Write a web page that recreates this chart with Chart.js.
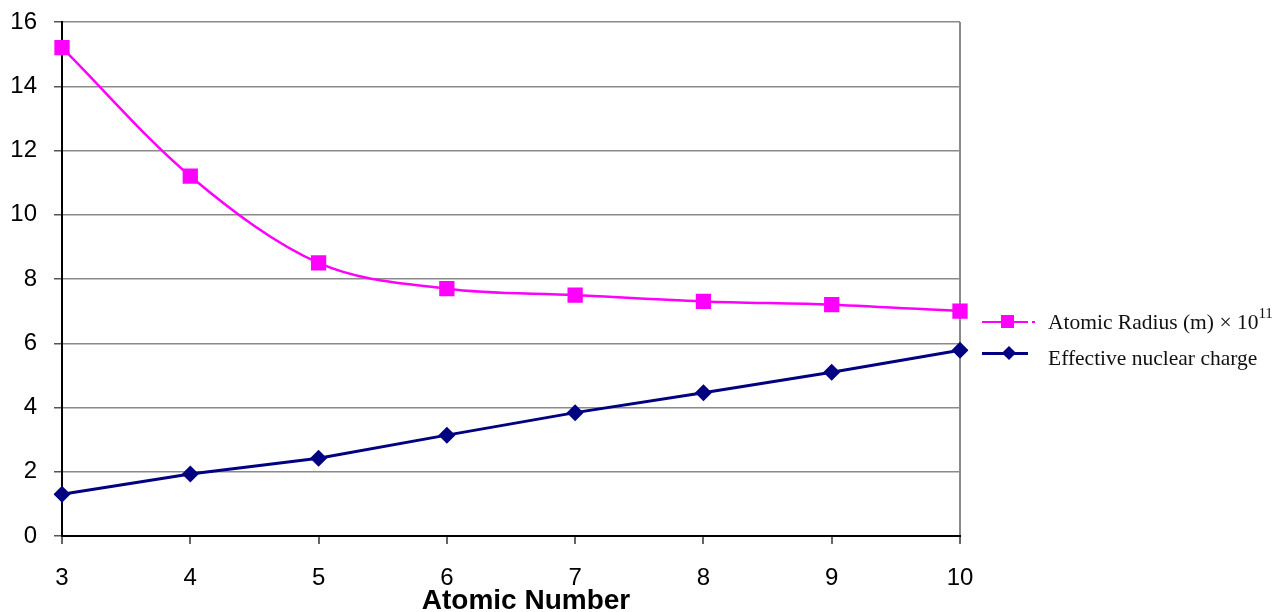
<!DOCTYPE html>
<html>
<head>
    <meta charset="utf-8" />
    <title>Atomic radius and effective nuclear charge</title>
    <script src="https://cdn.jsdelivr.net/npm/chart.js@4/dist/chart.umd.min.js"></script>
    <style>
        body { margin: 0; background: #fff; }
        #wrap { position: relative; width: 1276px; height: 612px; overflow: hidden; }
        #xtitle { position: absolute; left: 0; width: 1052px; top: 585px; text-align: center;
                  font: bold 28px "Liberation Sans", Arial, sans-serif; color: #000; line-height: 30px; }
        .leg { position: absolute; left: 982px; height: 24px; line-height: 24px; white-space: nowrap;
               font: 21.5px "Liberation Serif", "Times New Roman", serif; color: #111; }
        .sample { position: absolute; left: 0; top: 0; width: 46px; height: 24px; }
        .sample .ln { position: absolute; left: 0; width: 46px; top: 11px; height: 2px; }
        .sample .mk { position: absolute; }
        .leg .txt { position: absolute; left: 66px; top: 0; }
        .leg sup { font-size: 15px; line-height: 0; position: relative; top: -3px; }
    </style>
</head>
<body>
<div id="wrap">
    <canvas id="chart"></canvas>
    <div id="xtitle">Atomic Number</div>

    <!--legende-->
    <div class="leg" style="top:310px">
        <div class="sample">
            <div class="ln" style="background:#ff00ff"></div>
            <div class="ln" style="background:#ff00ff;left:50px;width:3px"></div>
            <div class="mk" style="left:19px;top:5px;width:13px;height:13px;background:#ff00ff"></div>
        </div>
        <span class="txt">Atomic Radius (m) &times; 10<sup>11</sup></span>
    </div>
    <div class="leg" style="top:346px">
        <div class="sample">
            <div class="ln" style="background:#000080;top:6px;height:2.5px"></div>
            <div class="mk" style="left:22px;top:2px;width:10px;height:10px;background:#000080;transform:rotate(45deg)"></div>
        </div>
        <span class="txt">Effective nuclear charge</span>
    </div>
</div>

<script>
    var atomicNumbers = ["3", "4", "5", "6", "7", "8", "9", "10"];
    var atomicRadius = [15.2, 11.2, 8.5, 7.7, 7.5, 7.3, 7.2, 7.0];
    var nuclearCharge = [1.3, 1.93, 2.42, 3.14, 3.84, 4.46, 5.1, 5.78];
    var yTicks = [0, 2, 4, 6, 8, 10, 12, 14, 16];

    var tickFont = { family: "'Liberation Sans', Arial, sans-serif", size: 24 };

    var ctx = document.getElementById("chart").getContext("2d");
    var chart = new Chart(ctx, {
        type: "line",
        data: {
            labels: atomicNumbers,
            datasets: [
                {
                    label: "Atomic Radius (m) × 10^11",
                    data: atomicRadius,
                    borderColor: "#ff00ff",
                    backgroundColor: "#ff00ff",
                    borderWidth: 2.5,
                    cubicInterpolationMode: "monotone",
                    pointStyle: "rect",
                    pointRadius: 10.8,
                    pointBorderWidth: 0
                },
                {
                    label: "Effective nuclear charge",
                    data: nuclearCharge,
                    borderColor: "#000080",
                    backgroundColor: "#000080",
                    borderWidth: 3,
                    tension: 0,
                    pointStyle: "rectRot",
                    pointRadius: 8.5,
                    pointBorderWidth: 0
                }
            ]
        },
        options: {
            responsive: true,
            maintainAspectRatio: false,
            animation: false,
            layout: { padding: { top: 22, right: 316, left: 0, bottom: 0 } },
            plugins: {
                legend: { display: false },
                tooltip: { enabled: false }
            },
            scales: {
                x: {
                    type: "category",
                    offset: false,
                    afterFit: function (s) { s.height = 76; s.paddingLeft = 0; s.paddingRight = 0; },
                    grid: {
                        color: function (c) { return c.index === atomicNumbers.length - 1 ? "#8a8a8a" : "rgba(0,0,0,0)"; },
                        lineWidth: 2,
                        tickColor: "#666",
                        tickLength: 8
                    },
                    border: { color: "#000", width: 2 },
                    ticks: { color: "#000", font: tickFont, padding: 20, maxRotation: 0 }
                },
                y: {
                    min: 0,
                    max: 16,
                    afterFit: function (s) { s.width = 62; s.paddingTop = 0; s.paddingBottom = 0; },
                    afterBuildTicks: function (s) { s.ticks = yTicks.map(function (v) { return { value: v }; }); },
                    grid: { color: "#8a8a8a", lineWidth: 1.5, tickColor: "#555", tickLength: 8 },
                    border: { color: "#000", width: 2 },
                    ticks: { color: "#000", font: tickFont, padding: 17 }
                }
            }
        }
    });
</script>
</body>
</html>
